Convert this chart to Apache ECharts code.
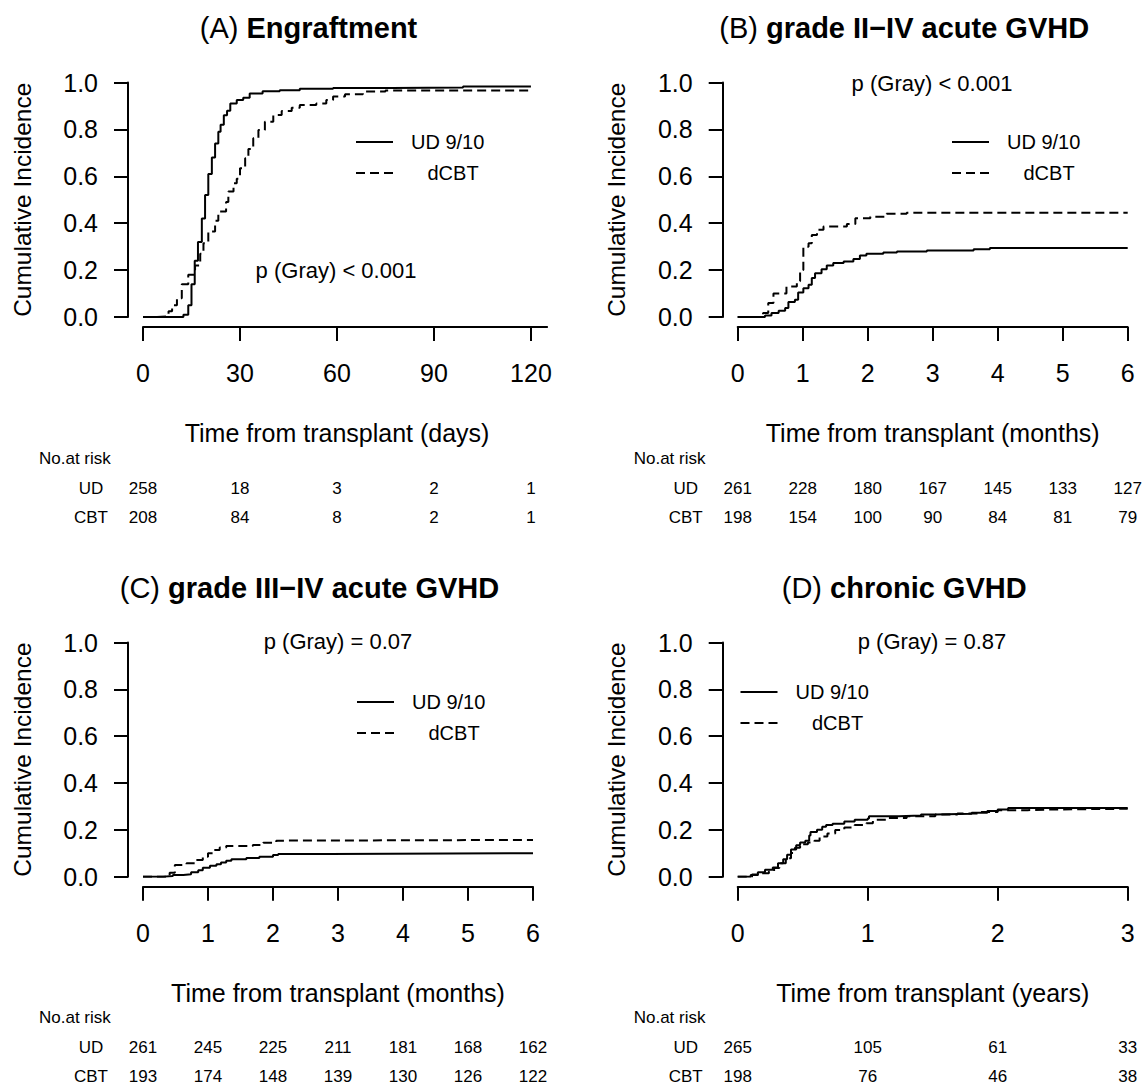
<!DOCTYPE html>
<html>
<head>
<meta charset="utf-8">
<script src="https://cdn.jsdelivr.net/npm/echarts@6/dist/echarts.min.js"></script>
<style>
html, body { margin: 0; background: #fff; }
#chart { width: 1143px; height: 1088px; }
</style>
</head>
<body>
<div id="chart"></div>
<script>
// (A) engraftment, x in days
var engraftUD = [[0,0],[12.5,0.01],[14,0.05],[15,0.14],[16,0.24],[17,0.32],[18.2,0.42],[19.2,0.52],[20.2,0.61],[21.3,0.68],[22.3,0.74],[23.3,0.79],[24,0.82],[25,0.86],[26,0.88],[27,0.91],[29,0.925],[31,0.935],[33,0.953],[37,0.963],[42.3,0.967],[48.5,0.973],[58.8,0.977],[77,0.979],[99,0.983],[120,0.983]];
var engraftCBT = [[0,0],[4.3,0.003],[7.9,0.024],[9,0.05],[10.5,0.08],[12,0.14],[14,0.18],[16.1,0.22],[17.7,0.27],[18.7,0.315],[20.2,0.365],[22.3,0.41],[23.3,0.45],[25.7,0.49],[26.4,0.535],[28,0.57],[29,0.59],[30,0.634],[31.6,0.677],[32.6,0.716],[34.1,0.762],[35.7,0.797],[37.7,0.833],[40.3,0.861],[42.9,0.878],[46,0.892],[48.5,0.904],[53.6,0.91],[56.7,0.925],[58.8,0.94],[62.5,0.95],[68,0.962],[75,0.966],[120,0.966]];
// (B) grade II-IV aGVHD, months
var agvhd24UD = [[0,0],[0.42,0.006],[0.52,0.017],[0.63,0.027],[0.73,0.038],[0.78,0.064],[0.88,0.074],[0.93,0.105],[1.01,0.123],[1.09,0.138],[1.14,0.166],[1.19,0.187],[1.29,0.204],[1.37,0.22],[1.47,0.23],[1.63,0.237],[1.78,0.247],[1.88,0.262],[1.98,0.27],[2.24,0.275],[2.45,0.279],[2.91,0.284],[3.63,0.289],[3.88,0.294],[6,0.294]];
var agvhd24CBT = [[0,0],[0.39,0.017],[0.47,0.06],[0.55,0.1],[0.75,0.13],[0.91,0.152],[0.96,0.2],[1.01,0.3],[1.09,0.315],[1.14,0.35],[1.22,0.372],[1.32,0.386],[1.68,0.397],[1.81,0.421],[2.04,0.428],[2.29,0.44],[2.6,0.445],[6,0.445]];
// (C) grade III-IV aGVHD, months
var agvhd34UD = [[0,0],[0.31,0.003],[0.46,0.007],[0.62,0.01],[0.74,0.019],[0.85,0.028],[0.92,0.038],[1.03,0.047],[1.13,0.053],[1.2,0.061],[1.28,0.068],[1.36,0.075],[1.59,0.08],[1.79,0.085],[2,0.093],[2.08,0.097],[2.87,0.1],[6,0.1]];
var agvhd34CBT = [[0,0],[0.41,0.017],[0.49,0.05],[0.67,0.057],[0.82,0.071],[0.92,0.085],[1,0.1],[1.08,0.114],[1.18,0.125],[1.28,0.131],[1.69,0.135],[1.85,0.145],[2.05,0.154],[2.15,0.157],[6,0.157]];
// (D) chronic GVHD, years
var cgvhdUD = [[0,0],[0.1,0.007],[0.155,0.019],[0.21,0.03],[0.27,0.039],[0.31,0.057],[0.35,0.075],[0.38,0.094],[0.41,0.116],[0.45,0.134],[0.48,0.146],[0.52,0.154],[0.55,0.176],[0.56,0.191],[0.61,0.2],[0.65,0.213],[0.68,0.221],[0.73,0.226],[0.82,0.236],[0.9,0.243],[1,0.248],[1.01,0.258],[1.24,0.261],[1.41,0.266],[1.52,0.269],[1.8,0.273],[1.92,0.281],[2,0.287],[2.08,0.293],[3,0.293]];
var cgvhdCBT = [[0,0],[0.11,0.009],[0.17,0.015],[0.24,0.022],[0.28,0.037],[0.32,0.057],[0.37,0.079],[0.41,0.101],[0.44,0.124],[0.48,0.139],[0.54,0.146],[0.59,0.154],[0.63,0.172],[0.69,0.184],[0.75,0.199],[0.82,0.21],[0.9,0.221],[0.99,0.228],[1.04,0.243],[1.15,0.251],[1.3,0.258],[1.52,0.266],[1.69,0.27],[1.86,0.276],[2,0.284],[2.23,0.287],[2.42,0.29],[3,0.29]];

// tick values
var ticksDays = [0, 30, 60, 90, 120];
var ticksMonths = [0, 1, 2, 3, 4, 5, 6];
var ticksYears = [0, 1, 2, 3];

// numbers at risk
var riskEngraftUD = [258, 18, 3, 2, 1];
var riskEngraftCBT = [208, 84, 8, 2, 1];
var riskAg24UD = [261, 228, 180, 167, 145, 133, 127];
var riskAg24CBT = [198, 154, 100, 90, 84, 81, 79];
var riskAg34UD = [261, 245, 225, 211, 181, 168, 162];
var riskAg34CBT = [193, 174, 148, 139, 130, 126, 122];
var riskCgUD = [265, 105, 61, 33];
var riskCgCBT = [198, 76, 46, 38];

var FONT = '"Liberation Sans", Arial, Helvetica, sans-serif';
var INK = '#000';

var panels = [
  {tag: '(A) ', title: 'Engraftment', xName: 'Time from transplant (days)', max: 125, ticks: ticksDays,
   ud: engraftUD, cbt: engraftCBT, rUD: riskEngraftUD, rCBT: riskEngraftCBT, p: 'p (Gray) < 0.001',
   left: 143, top: 82.5, width: 404.1, height: 234.5, pPos: [336, 270], leg: [355, 132], nameShift: 8},
  {tag: '(B) ', title: 'grade II\u2212IV acute GVHD', xName: 'Time from transplant (months)', max: 6, ticks: ticksMonths,
   ud: agvhd24UD, cbt: agvhd24CBT, rUD: riskAg24UD, rCBT: riskAg24CBT, p: 'p (Gray) < 0.001',
   left: 737.7, top: 82.5, width: 390, height: 234.5, pPos: [932, 83], leg: [951, 132], nameShift: 0},
  {tag: '(C) ', title: 'grade III\u2212IV acute GVHD', xName: 'Time from transplant (months)', max: 6, ticks: ticksMonths,
   ud: agvhd34UD, cbt: agvhd34CBT, rUD: riskAg34UD, rCBT: riskAg34CBT, p: 'p (Gray) = 0.07',
   left: 143, top: 642.5, width: 390, height: 234.2, pPos: [338, 641], leg: [356, 692], nameShift: 0},
  {tag: '(D) ', title: 'chronic GVHD', xName: 'Time from transplant (years)', max: 3, ticks: ticksYears,
   ud: cgvhdUD, cbt: cgvhdCBT, rUD: riskCgUD, rCBT: riskCgCBT, p: 'p (Gray) = 0.87',
   left: 737.7, top: 642.5, width: 390, height: 234.2, pPos: [932, 641], leg: [739.5, 682], nameShift: 0}
];

var chart = echarts.init(document.getElementById('chart'), null, {renderer: 'svg'});

var option = {
  animation: false,
  textStyle: {fontFamily: FONT},
  grid: [], xAxis: [], yAxis: [], series: [], legend: [], graphic: []
};

panels.forEach(function (p, i) {
  var bottom = p.top + p.height;
  option.grid.push({left: p.left, top: p.top, width: p.width, height: p.height, outerBoundsMode: 'none'});

  // main time axis
  option.xAxis.push({
    type: 'value', gridIndex: i, min: 0, max: p.max, position: 'bottom', offset: 10,
    axisLine: {onZero: false, lineStyle: {color: INK, width: 2}},
    axisTick: {length: 14, customValues: p.ticks, lineStyle: {color: INK, width: 2}},
    axisLabel: {customValues: p.ticks, margin: 46, verticalAlign: 'middle', fontSize: 25, color: INK},
    splitLine: {show: false},
    name: p.xName, nameLocation: 'middle', nameGap: 106, nameMoveOverlap: false,
    nameTextStyle: {fontSize: 25, color: INK, verticalAlign: 'middle', padding: [0, p.nameShift * 2, 0, 0]}
  });
  // two extra axes carry the numbers-at-risk rows
  [p.rUD, p.rCBT].forEach(function (arr, r) {
    option.xAxis.push({
      type: 'value', gridIndex: i, min: 0, max: p.max, position: 'bottom', offset: 10,
      axisLine: {show: false, onZero: false}, axisTick: {show: false}, splitLine: {show: false},
      axisLabel: {customValues: p.ticks, margin: r ? 190 : 161, verticalAlign: 'middle', fontSize: 17, color: INK,
        formatter: function (v) { return String(arr[p.ticks.indexOf(v)]); }}
    });
  });

  option.yAxis.push({
    type: 'value', gridIndex: i, min: 0, max: 1, interval: 0.2, position: 'left', offset: 15,
    axisLine: {show: true, onZero: false, lineStyle: {color: INK, width: 2}},
    axisTick: {show: true, length: 14, lineStyle: {color: INK, width: 2}},
    axisLabel: {margin: 30, fontSize: 25, color: INK, formatter: function (v) { return v.toFixed(1); }},
    splitLine: {show: false},
    name: 'Cumulative Incidence', nameLocation: 'middle', nameGap: 106, nameMoveOverlap: false,
    nameTextStyle: {fontSize: 24.5, color: INK, verticalAlign: 'middle'}
  });

  option.series.push({
    type: 'line', name: 'UD 9/10', xAxisIndex: i * 3, yAxisIndex: i, data: p.ud, step: 'end',
    symbol: 'none', silent: true, itemStyle: {color: INK},
    lineStyle: {color: INK, width: 2, type: 'solid'}
  });
  option.series.push({
    type: 'line', name: 'dCBT', xAxisIndex: i * 3, yAxisIndex: i, data: p.cbt, step: 'end',
    symbol: 'none', silent: true, itemStyle: {color: INK},
    lineStyle: {color: INK, width: 2, type: [9, 5]}
  });

  option.legend.push({
    left: p.leg[0], top: p.leg[1], orient: 'vertical', padding: 0, itemWidth: 37, itemHeight: 14,
    itemGap: 11, selectedMode: false,
    itemStyle: {opacity: 0, borderWidth: 0},
    textStyle: {fontSize: 20, color: INK, padding: [0, 0, 0, 13]},
    data: [{name: 'UD 9/10'}, {name: 'dCBT', textStyle: {padding: [0, 0, 0, 29.5]}}]
  });

  var titleX = p.left + (p.nameShift ? 165.5 : 166.5);
  option.graphic.push({
    type: 'text', x: titleX, y: p.top - 54.5, silent: true,
    style: {
      text: '{n|' + p.tag + '}{b|' + p.title + '}', align: 'center', verticalAlign: 'middle',
      rich: {
        n: {fontSize: 29, fontFamily: FONT, fill: INK},
        b: {fontSize: 29, fontWeight: 'bold', fontFamily: FONT, fill: INK}
      }
    }
  });
  option.graphic.push({
    type: 'text', x: p.pPos[0], y: p.pPos[1], silent: true,
    style: {text: p.p, fontSize: 22, fontFamily: FONT, fill: INK, align: 'center', verticalAlign: 'middle'}
  });
  option.graphic.push({
    type: 'text', x: p.left - 104, y: bottom + 141, silent: true,
    style: {text: 'No.at risk', fontSize: 17, fontFamily: FONT, fill: INK, align: 'left', verticalAlign: 'middle'}
  });
  option.graphic.push({
    type: 'text', x: p.left - 52, y: bottom + 171, silent: true,
    style: {text: 'UD', fontSize: 17, fontFamily: FONT, fill: INK, align: 'center', verticalAlign: 'middle'}
  });
  option.graphic.push({
    type: 'text', x: p.left - 52, y: bottom + 200, silent: true,
    style: {text: 'CBT', fontSize: 17, fontFamily: FONT, fill: INK, align: 'center', verticalAlign: 'middle'}
  });
});

chart.setOption(option);
</script>
</body>
</html>
